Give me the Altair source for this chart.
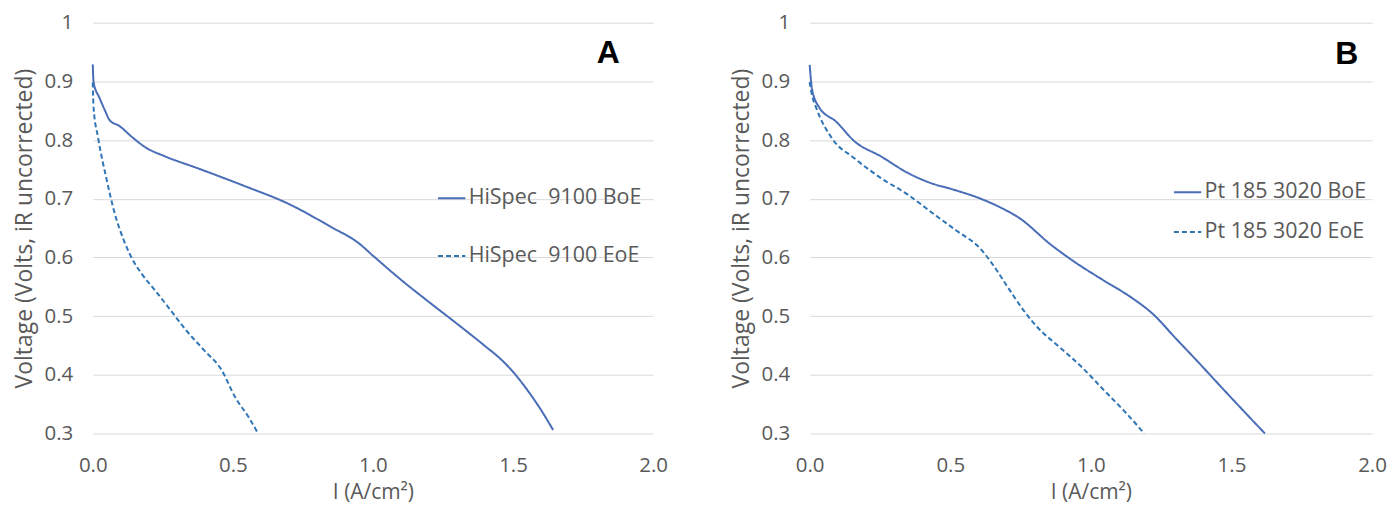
import altair as alt
import pandas as pd

# ---- Panel A data (I in A/cm2, Voltage in V) ----
a_boe_x = [0.0, 0.003, 0.024, 0.044, 0.06, 0.095, 0.143, 0.19, 0.254, 0.38, 0.54, 0.70, 0.85, 0.95, 1.0,
           1.10, 1.20, 1.30, 1.40, 1.46, 1.50, 1.548, 1.60, 1.643]
a_boe_y = [0.929, 0.898, 0.872, 0.850, 0.834, 0.824, 0.804, 0.787, 0.773, 0.751, 0.722, 0.691, 0.652, 0.624, 0.603,
           0.562, 0.524, 0.487, 0.449, 0.425, 0.405, 0.376, 0.340, 0.306]
a_eoe_x = [0.0, 0.003, 0.019, 0.048, 0.079, 0.111, 0.151, 0.175, 0.222, 0.27, 0.333, 0.397, 0.46, 0.508, 0.556, 0.59]
a_eoe_y = [0.898, 0.855, 0.804, 0.736, 0.674, 0.629, 0.589, 0.572, 0.544, 0.515, 0.476, 0.442, 0.408, 0.362, 0.328, 0.300]

# ---- Panel B data ----
b_boe_x = [0.0, 0.008, 0.032, 0.095, 0.159, 0.254, 0.349, 0.429, 0.508, 0.603, 0.683, 0.746, 0.857, 0.937, 1.048,
           1.143, 1.222, 1.302, 1.381, 1.460, 1.540, 1.619]
b_boe_y = [0.928, 0.888, 0.857, 0.831, 0.798, 0.772, 0.744, 0.727, 0.716, 0.701, 0.684, 0.667, 0.622, 0.594, 0.560,
           0.532, 0.503, 0.462, 0.422, 0.381, 0.340, 0.300]
b_eoe_x = [0.0, 0.008, 0.024, 0.079, 0.159, 0.254, 0.349, 0.444, 0.524, 0.603, 0.651, 0.698, 0.762, 0.81, 0.889,
           0.968, 1.048, 1.127, 1.19]
b_eoe_y = [0.899, 0.877, 0.854, 0.803, 0.769, 0.735, 0.707, 0.673, 0.645, 0.617, 0.588, 0.554, 0.509, 0.481, 0.447,
           0.413, 0.373, 0.334, 0.300]

a_series = ["HiSpec\u00a0 9100 BoE", "HiSpec\u00a0 9100 EoE"]
b_series = ["Pt 185 3020 BoE", "Pt 185 3020 EoE"]
panel_labels = ["A", "B"]
label_x = [1.84, 1.91]
label_y = [0.948, 0.946]

x_ticks = [0.0, 0.5, 1.0, 1.5, 2.0]
y_ticks = [0.3, 0.4, 0.5, 0.6, 0.7, 0.8, 0.9, 1.0]

COLORS = ["#4a6db8", "#2e75b6"]
DASHES = [[1, 0], [5, 3]]
FONT = "Open Sans"
GREY = "#595959"


def frame(xs, ys, name):
    return pd.DataFrame({"I": xs, "V": ys, "series": name, "order": range(len(xs))})


def panel(df, series, lab, lx, ly, legend_x, legend_y, row_pad, width):
    x = alt.X("I:Q", scale=alt.Scale(domain=[0, 2], nice=False),
              axis=alt.Axis(title="I (A/cm\u00b2)", values=x_ticks, format=".1f", grid=False,
                            labelFlush=False, labelPadding=22, titlePadding=6, titleFontSize=21))
    y = alt.Y("V:Q", scale=alt.Scale(domain=[0.3, 1.0], nice=False, zero=False),
              axis=alt.Axis(title="Voltage (Volts, iR uncorrected)", values=y_ticks, grid=True,
                            labelFlush=False,
                            labelExpr="datum.value == 1 ? '1' : format(datum.value, '.1f')",
                            labelPadding=20, titlePadding=8, titleFontSize=23))
    lines = alt.Chart(df).mark_line(strokeWidth=2, interpolate="monotone").encode(
        x=x, y=y, order="order:Q",
        color=alt.Color("series:N", scale=alt.Scale(domain=series, range=COLORS),
                        legend=alt.Legend(title=None, orient="none", legendX=legend_x, legendY=legend_y,
                                          symbolType="stroke", symbolStrokeWidth=2, symbolSize=750,
                                          labelFont=FONT, labelFontSize=21.5, labelColor=GREY,
                                          labelLimit=0, rowPadding=row_pad, padding=0, labelOffset=2)),
        strokeDash=alt.StrokeDash("series:N", scale=alt.Scale(domain=series, range=DASHES), legend=None),
    )
    letter = alt.Chart(pd.DataFrame({"lab": [lab], "x": [lx], "y": [ly]})).mark_text(
        font="Liberation Sans", fontWeight="bold", fontSize=32, color="black", baseline="middle", align="center"
    ).encode(x="x:Q", y="y:Q", text="lab:N")
    return alt.layer(lines, letter).properties(width=width, height=412)


df_a = pd.concat([frame(a_boe_x, a_boe_y, a_series[0]), frame(a_eoe_x, a_eoe_y, a_series[1])])
df_b = pd.concat([frame(b_boe_x, b_boe_y, b_series[0]), frame(b_eoe_x, b_eoe_y, b_series[1])])

pa = panel(df_a, a_series, panel_labels[0], label_x[0], label_y[0], 345, 161, 32, 562)
pb = panel(df_b, b_series, panel_labels[1], label_x[1], label_y[1], 364, 155, 14, 564)

chart = alt.hconcat(pa, pb, spacing=62).resolve_scale(
    color="independent", strokeDash="independent"
).properties(
    padding={"left": 5, "top": 4, "right": 5, "bottom": 5}
).configure_view(stroke=None).configure_axis(
    labelFont=FONT, labelFontSize=20.5, labelColor=GREY,
    titleFont=FONT, titleFontWeight="normal", titleColor=GREY,
    gridColor="#d9d9d9", gridWidth=1, domain=False, ticks=False, tickSize=0
)

chart.save("out.html", embed_options={"renderer": "svg", "actions": False})
